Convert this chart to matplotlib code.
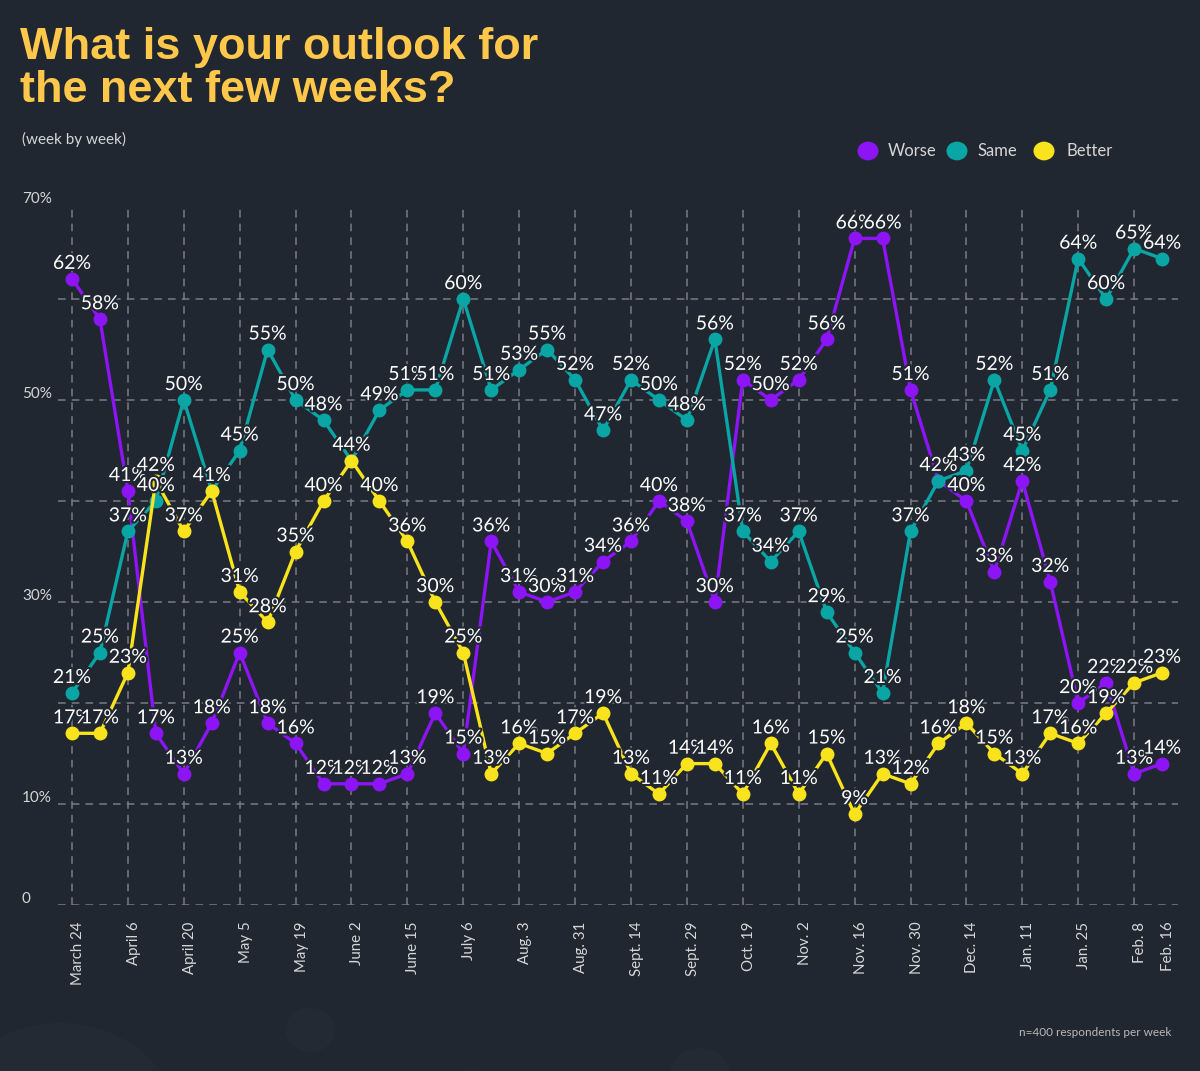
import matplotlib
matplotlib.use("Agg")
import matplotlib.pyplot as plt
import matplotlib.patheffects as pe
from matplotlib.transforms import blended_transform_factory, ScaledTranslation
from matplotlib.patches import Circle

# weekly survey values (%)
worse = [62, 58, 41, 17, 13, 18, 25, 18, 16, 12, 12, 12, 13, 19, 15, 36, 31, 30, 31, 34,
         36, 40, 38, 30, 52, 50, 52, 56, 66, 66, 51, 42, 40, 33, 42, 32, 20, 22, 13, 14]
same = [21, 25, 37, 40, 50, 41, 45, 55, 50, 48, 44, 49, 51, 51, 60, 51, 53, 55, 52, 47,
        52, 50, 48, 56, 37, 34, 37, 29, 25, 21, 37, 42, 43, 52, 45, 51, 64, 60, 65, 64]
better = [17, 17, 23, 42, 37, 41, 31, 28, 35, 40, 44, 40, 36, 30, 25, 13, 16, 15, 17, 19,
          13, 11, 14, 14, 11, 16, 11, 15, 9, 13, 12, 16, 18, 15, 13, 17, 16, 19, 22, 23]

tick_labels = ["March 24", "April 6", "April 20", "May 5", "May 19", "June 2", "June 15",
               "July 6", "Aug. 3", "Aug. 31", "Sept. 14", "Sept. 29", "Oct. 19", "Nov. 2",
               "Nov. 16", "Nov. 30", "Dec. 14", "Jan. 11", "Jan. 25", "Feb. 8", "Feb. 16"]
tick_pos = list(range(0, 40, 2)) + [39]

series_names = ["Worse", "Same", "Better"]
colors = ["#8c14f6", "#0aa5a5", "#f8e31c"]

BG = "#212731"
GRID = "#767b84"
TXT = "#d6d6d6"

fig = plt.figure(figsize=(12, 10.71), dpi=100, facecolor=BG)

# faint decorative circles at the bottom
for (cx, cy, r) in [(60, 1130, 120), (310, 1030, 25), (470, 1110, 45), (700, 1075, 30)]:
    fig.patches.append(Circle((cx / 1200, 1 - cy / 1071), r / 1200, transform=fig.transFigure,
                              facecolor="#242a34", edgecolor="none", zorder=0))

ax = fig.add_axes([58 / 1200, 1 - 905 / 1071, (1178 - 58) / 1200, (905 - 198) / 1071])
ax.set_facecolor("none")
ax.set_xlim(-0.5, 39.57)
ax.set_ylim(0, 70)
for s in ax.spines.values():
    s.set_visible(False)

# dashed grid
for v in range(0, 70, 10):
    ax.axhline(v, color=GRID, lw=1.1, ls=(0, (5, 4)), zorder=1)
for p in range(0, 40, 2):
    ax.vlines(p, 0, 69.3, color=GRID, lw=1.1, ls=(0, (5, 4)), zorder=1)

x = list(range(len(worse)))
for vals, c in zip([worse, same, better], colors):
    ax.plot(x, vals, color=c, lw=2.4, marker="o", ms=9, zorder=3)

stroke = [pe.withStroke(linewidth=3, foreground=BG)]
for vals in [worse, same, better]:
    for i, v in enumerate(vals):
        ax.annotate(f"{v}%", (i, v), xytext=(0, 5), textcoords="offset points",
                    ha="center", va="bottom", fontsize=14, color="white",
                    family="Lato", zorder=5, path_effects=stroke)

ax.set_yticks([])
ax.set_xticks(tick_pos)
ax.set_xticklabels(tick_labels, rotation=90, fontsize=10.8, color=TXT, family="Lato",
                   va="top", ha="center")
ax.tick_params(axis="x", length=0, pad=12)
off = ScaledTranslation(6 / 100, 0, fig.dpi_scale_trans)
for lab in ax.get_xticklabels():
    lab.set_transform(lab.get_transform() + off)

# y labels
tr = blended_transform_factory(fig.transFigure, ax.transData)
for v, s in [(69.9, "70%"), (50.6, "50%"), (30.6, "30%"), (10.6, "10%"), (0.6, "0")]:
    ax.text(22 / 1200, v, s, transform=tr, fontsize=11, color=TXT,
            family="Lato", ha="left", va="center")

# title
fig.text(20 / 1200, 1 - 27 / 1071, "What is your outlook for\nthe next few weeks?",
         fontsize=32.5, fontweight="bold", color="#ffc84a", family="Liberation Sans",
         ha="left", va="top", linespacing=1.05)
fig.text(22 / 1200, 1 - 139 / 1071, "(week by week)", fontsize=11, color=TXT,
         family="Lato", ha="left", va="center")

# legend
for cx, tx, name, c in zip([868, 957, 1044], [888, 978, 1066], series_names, colors):
    fig.patches.append(Circle((cx / 1200, 1 - 151 / 1071), 10.5 / 1200,
                              transform=fig.transFigure, facecolor=c, edgecolor="none"))
    fig.text(tx / 1200, 1 - 151 / 1071, name, fontsize=12, color=TXT, family="Lato",
             ha="left", va="center")

fig.text(1171 / 1200, 1 - 1032 / 1071, "n=400 respondents per week", fontsize=8.5,
         color="#b8b8b8", family="Lato", ha="right", va="center")

fig.savefig("out.png", dpi=100, facecolor=BG)
